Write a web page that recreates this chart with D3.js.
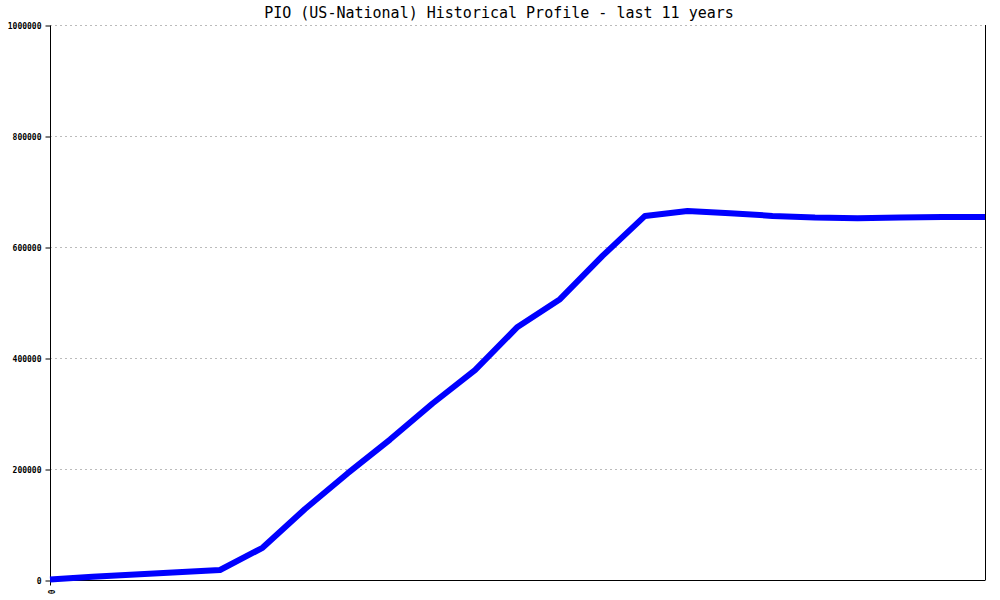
<!DOCTYPE html>
<html>
<head>
<meta charset="utf-8">
<script src="https://cdn.jsdelivr.net/npm/d3@7"></script>
<style>
  html, body { margin: 0; padding: 0; background: #fff; }
  svg { display: block; }
</style>
</head>
<body>
<svg id="chart" width="1000" height="600"></svg>
<script>
// ---- data ----
const titleText = "PIO (US-National) Historical Profile - last 11 years";
const periods = d3.range(0, 23); // half-year steps over 11 years
const values = [1000, 6000, 10000, 14000, 18000, 58000, 128000, 192000, 253000, 318000,
                378000, 456000, 506000, 584000, 656000, 665000, 661000, 656000, 653000,
                652000, 653000, 654000, 654000];
const yTicks = [0, 200000, 400000, 600000, 800000, 1000000];
const xTicks = [0];

// ---- layout ----
const svg = d3.select("#chart");
const m = { left: 50, right: 15, top: 25, bottom: 20 };
const W = 1000, H = 600;
const x = d3.scaleLinear().domain([0, periods.length - 1]).range([m.left, W - m.right]);
const y = d3.scaleLinear().domain([0, 1000000]).range([H - m.bottom, m.top]);

// title
svg.append("text")
  .attr("x", 499).attr("y", 18)
  .attr("text-anchor", "middle")
  .attr("font-family", "'DejaVu Sans Mono', 'Liberation Mono', monospace")
  .attr("font-size", 15)
  .attr("fill", "#000")
  .text(titleText);

// grid
svg.append("g")
  .selectAll("line")
  .data(yTicks.filter(d => d > 0))
  .join("line")
  .attr("x1", m.left).attr("x2", W - m.right)
  .attr("y1", d => Math.round(y(d)) + 0.5).attr("y2", d => Math.round(y(d)) + 0.5)
  .attr("stroke", "#bbbbbb")
  .attr("stroke-width", 1)
  .attr("stroke-dasharray", "2,3");

// y axis
const yAxis = d3.axisLeft(y).tickValues(yTicks).tickSize(5).tickPadding(4)
  .tickFormat(d3.format("d"));
const gy = svg.append("g").attr("transform", `translate(${m.left + 0.5},0.5)`).call(yAxis);
gy.select(".domain").attr("d", `M0,${m.top}V${H - m.bottom + 5}`).attr("stroke", "#000");
gy.selectAll(".tick line").attr("stroke", "#000");
gy.selectAll("text")
  .attr("font-family", "'DejaVu Sans Mono', 'Liberation Mono', monospace")
  .attr("font-size", 8).attr("font-weight", "bold").attr("fill", "#000");

// x axis
const xAxis = d3.axisBottom(x).tickValues(xTicks).tickSize(0).tickPadding(0)
  .tickFormat(d3.format("d"));
const gx = svg.append("g").attr("transform", `translate(0.5,${H - m.bottom + 0.5})`).call(xAxis);
gx.select(".domain").attr("d", `M${m.left},0H${W - m.right}`).attr("stroke", "#000");
gx.selectAll("text")
  .attr("font-family", "'DejaVu Sans Mono', 'Liberation Mono', monospace")
  .attr("font-size", 8).attr("font-weight", "bold").attr("fill", "#000")
  .attr("text-anchor", "start")
  .attr("dy", 0)
  .attr("transform", "translate(-3,9) rotate(90)");

// right border
svg.append("line")
  .attr("x1", W - m.right + 0.5).attr("x2", W - m.right + 0.5)
  .attr("y1", m.top).attr("y2", H - m.bottom)
  .attr("stroke", "#000").attr("stroke-width", 1);

// line
const line = d3.line().x((d, i) => x(periods[i])).y(d => y(d));
svg.append("path")
  .datum(values)
  .attr("d", line)
  .attr("fill", "none")
  .attr("stroke", "#0000ff")
  .attr("stroke-width", 6)
  .attr("stroke-linejoin", "round");
</script>
</body>
</html>
